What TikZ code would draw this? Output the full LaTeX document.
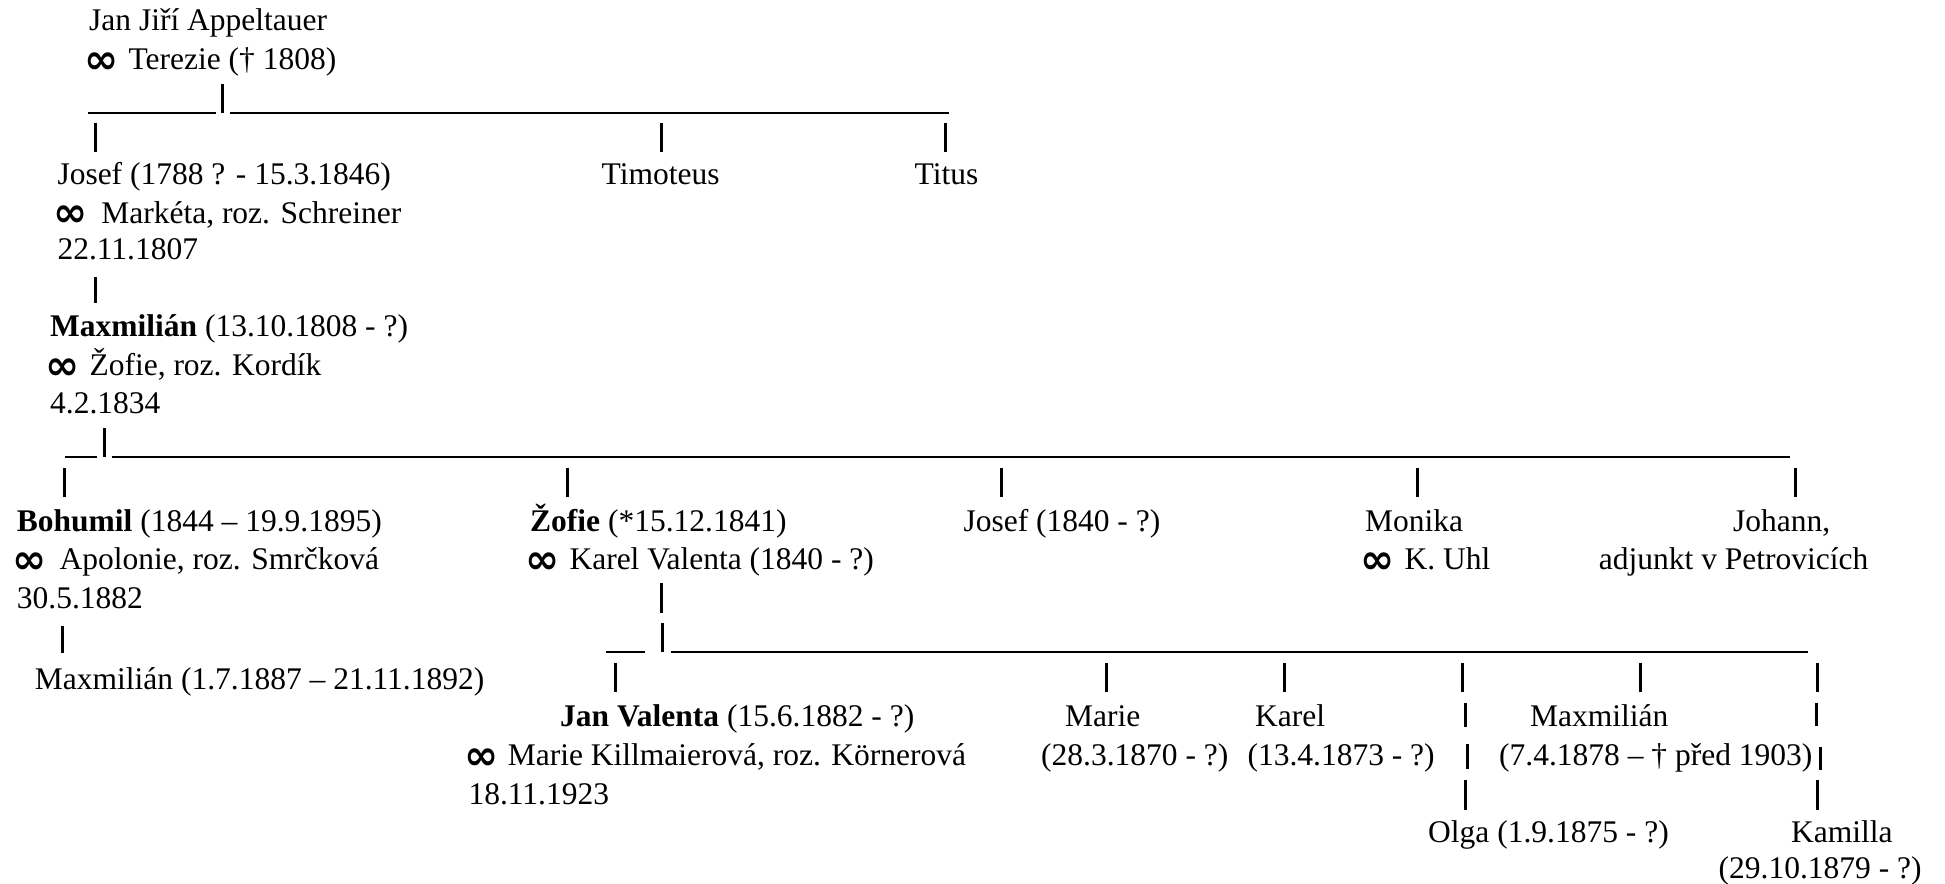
\documentclass[tikz,border=0pt]{standalone}
\usepackage{fontspec}
\setmainfont{Liberation Serif}
\newfontfamily\symfont{DejaVu Sans}
\newcommand\marr{\hspace*{-4.5pt}\raisebox{-3.5pt}{\symfont\bfseries\fontsize{41}{41}\selectfont ∞}\hspace*{1.8pt}}
\newcommand\vpipe[4]{\coordinate (#1t) at (#2,#3); \coordinate (#1b) at (#2,#4); \draw[vbar] (#1t) -- (#1b);}
\newcommand\hbarline[4]{\coordinate (#1l) at (#3,#2); \coordinate (#1r) at (#4,#2); \draw[hbar] (#1l) -- (#1r);}
\begin{document}
\begin{tikzpicture}[x=1pt,y=-1pt,
  txt/.style={anchor=base west, inner sep=0pt, yshift=-1.5pt, font=\fontsize{31.5}{38}\selectfont},
  hbar/.style={line width=2pt},
  vbar/.style={line width=3pt}]
\useasboundingbox (0,0) rectangle (1945,883);

% generation 1
\node[txt] (jan1) at (89,29.5) {Jan Jiří Appeltauer};
\node[txt] (jan2) at (89,68.3) {\marr{} Terezie († 1808)};
\hbarline{ba}{113}{88}{216}
\vpipe{pa}{222.5}{84}{113}
\hbarline{bb}{113}{230}{949}
\vpipe{pj}{95.5}{123}{152}
\vpipe{pt}{661.5}{123}{152}
\vpipe{pti}{945.5}{123}{152}

% generation 2
\node[txt] (jos1) at (57.3,183) {Josef (1788 ? - 15.3.1846)};
\node[txt] (jos2) at (57.3,221.7) {\marr\hspace{4.5pt} Markéta, roz. Schreiner};
\node[txt] (jos3) at (57.3,258.3) {22.11.1807};
\node[txt] (tim) at (601.5,183) {Timoteus};
\node[txt] (tit) at (914.5,183) {Titus};
\vpipe{pm}{95.5}{277}{303}

% generation 3
\node[txt] (max1) at (50,335) {\textbf{Maxmilián} (13.10.1808 - ?)};
\node[txt] (max2) at (50,374) {\marr{} Žofie, roz. Kordík};
\node[txt] (max3) at (50,411.7) {4.2.1834};
\hbarline{bc}{457}{65}{96.7}
\vpipe{pc}{104.5}{428}{457}
\hbarline{bd}{457}{111.7}{1790}
\vpipe{pbo}{64.5}{468}{496.7}
\vpipe{pzo}{567.5}{468}{496.7}
\vpipe{pjo}{1001.5}{468}{496.7}
\vpipe{pmo}{1417.5}{468}{496.7}
\vpipe{pjh}{1795.5}{468}{496.7}

% generation 4
\node[txt] (boh1) at (16.7,530) {\textbf{Bohumil} (1844 – 19.9.1895)};
\node[txt] (boh2) at (16.7,568.3) {\marr\hspace{3.5pt} Apolonie, roz. Smrčková};
\node[txt] (boh3) at (16.7,607) {30.5.1882};
\node[txt] (zof1) at (530,530) {\textbf{Žofie} (*15.12.1841)};
\node[txt] (zof2) at (530,568.3) {\marr{} Karel Valenta (1840 - ?)};
\node[txt] (jos4) at (963.3,530) {Josef (1840 - ?)};
\node[txt] (mon1) at (1365,530) {Monika};
\node[txt] (mon2) at (1365,568.3) {\marr{} K. Uhl};
\node[txt] (joh1) at (1733,530) {Johann,};
\node[txt] (joh2) at (1598.7,568.3) {adjunkt v Petrovicích};

\vpipe{pbm}{62.5}{626}{653}
\vpipe{pzv}{661.5}{583}{613.3}
\hbarline{be}{652}{605.5}{645}
\vpipe{pe}{662.5}{623}{652}
\hbarline{bf}{652}{670.5}{1808}

% generation 5
\node[txt] (maxb) at (34.7,688) {Maxmilián (1.7.1887 – 21.11.1892)};
\vpipe{pjv}{615.5}{663}{691.7}
\vpipe{pma}{1106.5}{663}{691.7}
\vpipe{pka}{1284.5}{663}{691.7}
\vpipe{pol1}{1462.5}{663}{691.7}
\vpipe{pmx}{1640.5}{663}{691.7}
\vpipe{pkm1}{1817.5}{663}{691.7}

\node[txt] (jv1) at (560,725) {\textbf{Jan Valenta} (15.6.1882 - ?)};
\node[txt] (jv2) at (468.3,764) {\marr{} Marie Killmaierová, roz. Körnerová};
\node[txt] (jv3) at (468.3,802.5) {18.11.1923};
\node[txt] (mar1) at (1065,725) {Marie};
\node[txt] (mar2) at (1041,764) {(28.3.1870 - ?)};
\node[txt] (kar1) at (1255,725) {Karel};
\node[txt] (kar2) at (1247.3,764) {(13.4.1873 - ?)};
\vpipe{pol2}{1465.5}{703}{727}
\vpipe{pol3}{1467.5}{744}{769}
\vpipe{pol4}{1465.5}{780}{810}
\node[txt] (olg) at (1428,840.5) {Olga (1.9.1875 - ?)};
\node[txt] (mx1) at (1530,725) {Maxmilián};
\node[txt] (mx2) at (1499,764) {(7.4.1878 – † před 1903)};
\vpipe{pkm2}{1816.5}{703}{726}
\vpipe{pkm3}{1820.5}{746.7}{770}
\vpipe{pkm4}{1817.5}{780}{810}
\node[txt] (kam1) at (1791,840.5) {Kamilla};
\node[txt] (kam2) at (1718.5,877) {(29.10.1879 - ?)};
\end{tikzpicture}
\end{document}
